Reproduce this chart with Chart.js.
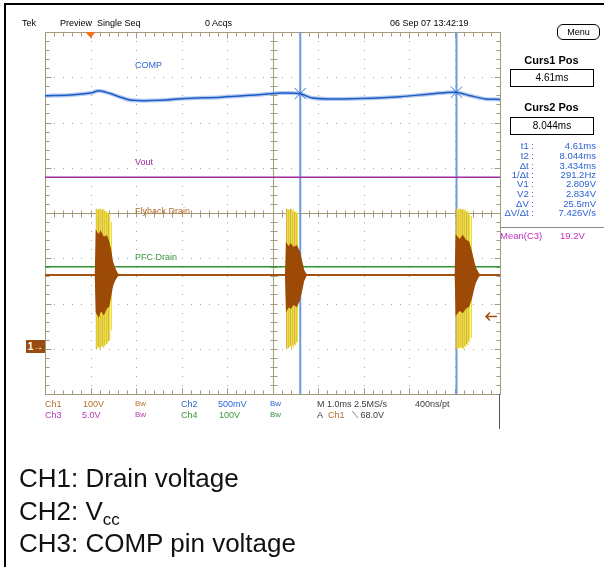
<!DOCTYPE html>
<html>
<head>
<meta charset="utf-8">
<script src="https://cdn.jsdelivr.net/npm/chart.js@4.4.1/dist/chart.umd.min.js"></script>
<style>
body{margin:0;background:#fff;}
#wrap{position:relative;width:604px;height:567px;overflow:hidden;font-family:"Liberation Sans",Arial,sans-serif;background:#fff;}
#scope{position:absolute;left:0;top:0;}
#frame{position:absolute;left:4px;top:3px;width:700px;height:700px;border-left:2px solid #000;border-top:2px solid #000;}
.t{position:absolute;font-size:9px;line-height:10px;white-space:nowrap;}
.bw{font-size:8px;}
.menu{position:absolute;left:557px;top:24px;width:41px;height:14px;border:1.5px solid #000;border-radius:6px;font-size:9px;line-height:14px;text-align:center;}
.head{position:absolute;left:505px;width:93px;text-align:center;font-weight:bold;font-size:11px;line-height:12px;}
.box{position:absolute;left:510px;width:82px;height:16px;border:1px solid #000;text-align:center;font-size:10px;line-height:16px;}
.lab{position:absolute;width:60px;left:474px;text-align:right;font-size:9.5px;line-height:10px;color:#2c62d2;}
.val{position:absolute;width:70px;left:526px;text-align:right;font-size:9.5px;line-height:10px;color:#2c62d2;}
.note{position:absolute;left:19px;font-size:26px;line-height:26px;color:#111;white-space:nowrap;}
.note sub{font-size:17px;vertical-align:-5px;line-height:0;}
#ch1mark{position:absolute;left:26px;top:340px;width:19px;height:13px;background:#9a4c10;color:#fff;font-size:10px;line-height:13px;text-align:center;font-weight:bold;}
</style>
</head>
<body>
<div id="wrap">
<canvas id="scope" width="604" height="567"></canvas>
<div id="frame"></div>

<div class="t" style="left:22px;top:18px">Tek</div>
<div class="t" style="left:60px;top:18px">Preview</div>
<div class="t" style="left:97px;top:18px">Single Seq</div>
<div class="t" style="left:205px;top:18px">0 Acqs</div>
<div class="t" style="left:390px;top:18px">06 Sep 07 13:42:19</div>
<div class="menu">Menu</div>

<div class="t" style="left:135px;top:60px;color:#2c68d4">COMP</div>
<div class="t" style="left:135px;top:157px;color:#a32ca3">Vout</div>
<div class="t" style="left:135px;top:206px;color:#b5702c">Flyback Drain</div>
<div class="t" style="left:135px;top:252px;color:#3a983a">PFC Drain</div>
<div id="ch1mark">1→</div>

<div class="t" style="left:45px;top:399px;color:#b5702c">Ch1</div>
<div class="t" style="left:83px;top:399px;color:#b5702c">100V</div>
<div class="t bw" style="left:135px;top:399px;color:#b5702c">Bw</div>
<div class="t" style="left:181px;top:399px;color:#2c68d4">Ch2</div>
<div class="t" style="left:218px;top:399px;color:#2c68d4">500mV</div>
<div class="t bw" style="left:270px;top:399px;color:#2c68d4">Bw</div>
<div class="t" style="left:317px;top:399px;color:#3c3c3c">M 1.0ms 2.5MS/s</div>
<div class="t" style="left:415px;top:399px;color:#3c3c3c">400ns/pt</div>
<div class="t" style="left:45px;top:410px;color:#b43ab4">Ch3</div>
<div class="t" style="left:82px;top:410px;color:#b43ab4">5.0V</div>
<div class="t bw" style="left:135px;top:410px;color:#b43ab4">Bw</div>
<div class="t" style="left:181px;top:410px;color:#3a983a">Ch4</div>
<div class="t" style="left:219px;top:410px;color:#3a983a">100V</div>
<div class="t bw" style="left:270px;top:410px;color:#3a983a">Bw</div>
<div class="t" style="left:317px;top:410px;color:#3c3c3c">A</div>
<div class="t" style="left:328px;top:410px;color:#b5702c">Ch1</div>
<div class="t" style="left:352px;top:410px;color:#3c3c3c">⟍ 68.0V</div>

<div class="head" style="top:54px">Curs1 Pos</div>
<div class="box" style="top:69px">4.61ms</div>
<div class="head" style="top:101px">Curs2 Pos</div>
<div class="box" style="top:117px">8.044ms</div>
<div class="lab" style="top:141px">t1 :</div><div class="val" style="top:141px">4.61ms</div>
<div class="lab" style="top:151px">t2 :</div><div class="val" style="top:151px">8.044ms</div>
<div class="lab" style="top:161px">Δt :</div><div class="val" style="top:161px">3.434ms</div>
<div class="lab" style="top:170px">1/Δt :</div><div class="val" style="top:170px">291.2Hz</div>
<div class="lab" style="top:179px">V1 :</div><div class="val" style="top:179px">2.809V</div>
<div class="lab" style="top:189px">V2 :</div><div class="val" style="top:189px">2.834V</div>
<div class="lab" style="top:199px">ΔV :</div><div class="val" style="top:199px">25.5mV</div>
<div class="lab" style="top:208px">ΔV/Δt :</div><div class="val" style="top:208px">7.426V/s</div>
<div style="position:absolute;left:500px;top:227px;width:104px;height:1px;background:#8a8a8a"></div>
<div class="t" style="left:500px;top:231px;color:#c030c0;font-size:9.5px">Mean(C3)</div>
<div class="t" style="left:560px;top:231px;color:#c030c0;font-size:9.5px">19.2V</div>
<div style="position:absolute;left:499px;top:394px;width:1px;height:35px;background:#555"></div>

<div class="note" style="top:465px">CH1: Drain voltage</div>
<div class="note" style="top:498px">CH2: V<sub>cc</sub></div>
<div class="note" style="top:530px">CH3: COMP pin voltage</div>
</div>

<script>
// screen: time in ms from the trigger, level in vertical divisions
const xMin = -1, xMax = 9;
const yMin = -4, yMax = 4;
const timeSpan = [-1, 9];

// ch2 / COMP trace
const compTimes = [-1.0, -0.44, 0.0, 0.18, 0.40, 0.66, 0.92, 1.54, 2.09, 2.86, 3.63, 4.18, 4.59, 4.88, 5.27, 5.93, 6.81, 7.47, 8.02, 8.35, 8.68, 9.0];
const compLevels = [2.59, 2.61, 2.65, 2.70, 2.65, 2.56, 2.49, 2.49, 2.53, 2.56, 2.61, 2.65, 2.64, 2.54, 2.52, 2.53, 2.57, 2.63, 2.67, 2.59, 2.52, 2.51];

// flat channels
const voutLevel = 0.79;
const pfcLevel = -1.19;

// ch1 flyback drain, upper / lower edge of the burst envelope
const drainTimes = [-1,
  0.11, 0.13, 0.18, 0.22, 0.29, 0.35, 0.40, 0.44, 0.48, 0.53, 0.59, 0.64,
  4.29, 4.31, 4.35, 4.40, 4.46, 4.53, 4.59, 4.64, 4.68, 4.73, 4.77,
  8.02, 8.04, 8.11, 8.18, 8.24, 8.31, 8.37, 8.42, 8.46, 8.53, 8.57,
  9];
const drainUpper = [-1.37,
  -1.37, -0.42, -0.51, -0.42, -0.55, -0.51, -0.64, -0.82, -1.08, -1.22, -1.35, -1.37,
  -1.37, -0.69, -0.77, -0.69, -0.77, -0.73, -0.86, -1.08, -1.26, -1.35, -1.37,
  -1.37, -0.51, -0.60, -0.51, -0.60, -0.64, -0.86, -1.08, -1.22, -1.35, -1.37,
  -1.37];
const drainLower = [-1.37,
  -1.37, -2.19, -2.28, -2.14, -2.23, -2.10, -2.06, -1.83, -1.61, -1.48, -1.39, -1.37,
  -1.37, -2.14, -2.06, -2.10, -2.01, -2.06, -1.92, -1.70, -1.50, -1.39, -1.37,
  -1.37, -2.23, -2.14, -2.19, -2.10, -2.06, -1.88, -1.66, -1.52, -1.39, -1.37,
  -1.37];

// ringing peaks (yellow and tan persistence)
const yellowTimes = [0.15, 0.20, 0.24, 0.29, 0.33, 0.37, 0.42, 0.46,
  4.33, 4.37, 4.42, 4.46, 4.51, 4.55,
  8.07, 8.11, 8.15, 8.20, 8.24, 8.29, 8.33, 8.37];
const yellowTops = [0.09, 0.09, 0.07, 0.09, 0.04, 0.02, -0.02, -0.20,
  0.09, 0.07, 0.09, 0.07, 0.04, 0.00,
  0.09, 0.09, 0.07, 0.09, 0.07, 0.04, 0.00, -0.07];
const yellowBottoms = [-2.98, -3.01, -2.96, -2.98, -2.92, -2.88, -2.81, -2.59,
  -2.98, -2.96, -3.01, -2.96, -2.92, -2.85,
  -3.01, -2.98, -2.98, -3.01, -2.96, -2.92, -2.85, -2.76];
const tanTimes = [0.13, 0.18, 0.22, 0.27, 0.31, 0.35, 0.40,
  4.31, 4.35, 4.40, 4.44, 4.49, 4.53,
  8.04, 8.09, 8.13, 8.18, 8.22, 8.26, 8.31];
const tanTops = [0.09, 0.07, 0.09, 0.07, 0.04, 0.02, 0.00,
  0.09, 0.07, 0.09, 0.04, 0.02, 0.00,
  0.09, 0.07, 0.09, 0.07, 0.04, 0.02, -0.02];
const tanBottoms = [-3.01, -2.96, -2.98, -2.94, -2.92, -2.88, -2.83,
  -3.01, -2.98, -2.94, -2.92, -2.90, -2.85,
  -3.01, -2.98, -2.96, -2.98, -2.94, -2.90, -2.83];

// cursors
const cursorTimes = [4.61, 8.044];
const cursorLevels = [2.64, 2.67];
const trigLevel = -2.28;

const pts = (xs, ys) => xs.map((x, i) => ({x: x, y: ys[i]}));
const flat = (v) => timeSpan.map(t => ({x: t, y: v}));
const spikes = (xs, tops, bottoms) => xs.flatMap((x, i) => [{x: x, y: tops[i]}, {x: x, y: bottoms[i]}, {x: x, y: null}]);

//dotted graticule, border, centre cross and markers
const graticule = {
  id: 'graticule',
  beforeDatasetsDraw(chart) {
    const {ctx, scales: {x, y}} = chart;
    const px = v => Math.round(x.getPixelForValue(v));
    const py = v => Math.round(y.getPixelForValue(v));
    ctx.save();
    ctx.fillStyle = '#aaa282';
    for (let t = xMin + 1; t < xMax; t++) {
      if (t === 4) continue;
      for (let k = yMin * 5; k <= yMax * 5; k++) ctx.fillRect(px(t), py(k / 5), 1, 1);
    }
    for (let v = yMin + 1; v < yMax; v++) {
      if (v === 0) continue;
      for (let k = xMin * 5; k <= xMax * 5; k++) ctx.fillRect(px(k / 5), py(v), 1, 1);
    }
    ctx.strokeStyle = '#a39b7c';
    ctx.lineWidth = 1;
    const l = px(xMin) + 0.5, r = px(xMax) + 0.5, tp = py(yMax) + 0.5, b = py(yMin) + 0.5;
    const cx = px(4) + 0.5, cy = py(0) + 0.5;
    ctx.beginPath();
    ctx.rect(l, tp, r - l, b - tp);
    ctx.moveTo(cx, tp); ctx.lineTo(cx, b);
    ctx.moveTo(l, cy); ctx.lineTo(r, cy);
    for (let k = yMin * 5; k <= yMax * 5; k++) {
      const yy = py(k / 5) + 0.5;
      const len = k % 5 === 0 ? 6 : 4;
      ctx.moveTo(l, yy); ctx.lineTo(l + len, yy);
      ctx.moveTo(r, yy); ctx.lineTo(r - len, yy);
      ctx.moveTo(cx - 3, yy); ctx.lineTo(cx + 4, yy);
    }
    for (let k = xMin * 5; k <= xMax * 5; k++) {
      const xx = px(k / 5) + 0.5;
      const len = k % 5 === 0 ? 6 : 4;
      ctx.moveTo(xx, tp); ctx.lineTo(xx, tp + len);
      ctx.moveTo(xx, b); ctx.lineTo(xx, b - len);
      ctx.moveTo(xx, cy - 3); ctx.lineTo(xx, cy + 4);
    }
    ctx.stroke();
    ctx.restore();
  },
  afterDatasetsDraw(chart) {
    const {ctx, chartArea: a, scales: {x, y}} = chart;
    ctx.save();
    // trigger position
    const tx = x.getPixelForValue(0);
    ctx.fillStyle = '#f07020';
    ctx.beginPath();
    ctx.moveTo(tx - 5, a.top); ctx.lineTo(tx + 5, a.top); ctx.lineTo(tx, a.top + 6);
    ctx.closePath(); ctx.fill();
    // trigger level arrow
    const ty = Math.round(y.getPixelForValue(trigLevel)) + 0.5;
    ctx.strokeStyle = '#a0500c';
    ctx.lineWidth = 1.5;
    ctx.beginPath();
    ctx.moveTo(a.right - 3, ty); ctx.lineTo(a.right - 14, ty);
    ctx.moveTo(a.right - 10, ty - 4); ctx.lineTo(a.right - 14, ty); ctx.lineTo(a.right - 10, ty + 4);
    ctx.stroke();
    ctx.restore();
  }
};

new Chart(document.getElementById('scope'), {
  type: 'line',
  data: {
    datasets: [
      { data: pts(compTimes, compLevels), borderColor: '#1c5cc4', borderWidth: 1.5, tension: 0.3, order: 0 },
      { data: pts(cursorTimes, cursorLevels), showLine: false, pointStyle: 'crossRot', pointRadius: 8,
        pointBorderColor: '#3572d4', pointBorderWidth: 1, order: 0 },
      { data: pts(compTimes, compLevels), borderColor: 'rgba(120,160,228,0.55)', borderWidth: 4, tension: 0.3, order: 1 },
      { data: pts(drainTimes, drainUpper), borderColor: '#9c4a06', backgroundColor: '#9c4a06', borderWidth: 1.5,
        fill: '+1', order: 2 },
      { data: pts(drainTimes, drainLower), borderColor: '#9c4a06', borderWidth: 1.5, order: 2 },
      { data: spikes(yellowTimes, yellowTops, yellowBottoms), borderColor: '#ebe324', borderWidth: 1, spanGaps: false, order: 3 },
      { data: spikes(tanTimes, tanTops, tanBottoms), borderColor: '#d8aa78', borderWidth: 1, spanGaps: false, order: 4 },
      { data: flat(pfcLevel), borderColor: '#2f962f', borderWidth: 1.5, order: 5 },
      { data: flat(voutLevel), borderColor: '#9e2e9e', borderWidth: 1.5, order: 5 },
      { data: [{x: cursorTimes[0], y: yMin}, {x: cursorTimes[0], y: yMax}, {x: cursorTimes[0], y: null},
               {x: cursorTimes[1], y: yMin}, {x: cursorTimes[1], y: yMax}],
        borderColor: '#6c9be0', borderWidth: 2, spanGaps: false, order: 6 }
    ]
  },
  options: {
    responsive: false,
    animation: false,
    devicePixelRatio: 1,
    layout: { padding: { left: 45, top: 32, right: 104, bottom: 173 } },
    scales: {
      x: { type: 'linear', min: xMin, max: xMax, display: false },
      y: { type: 'linear', min: yMin, max: yMax, display: false }
    },
    elements: { point: { radius: 0 }, line: { tension: 0 } },
    plugins: { legend: { display: false }, tooltip: { enabled: false } }
  },
  plugins: [graticule]
});
</script>
</body>
</html>
